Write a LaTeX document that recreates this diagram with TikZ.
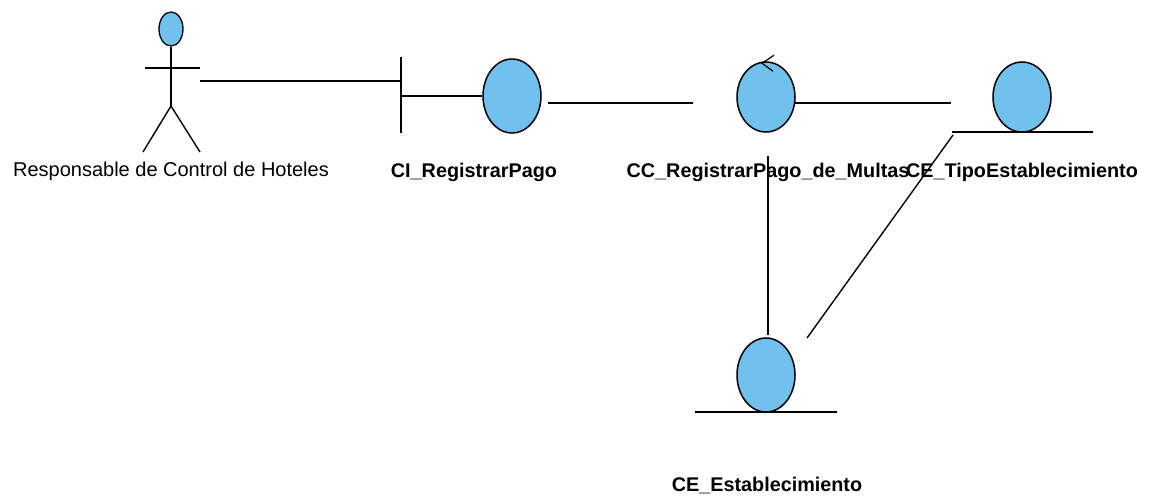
\documentclass[tikz,border=0pt]{standalone}
\usepackage{fontspec}
\setmainfont{Liberation Sans}
\usetikzlibrary{shapes.geometric,calc}
\definecolor{entfill}{RGB}{112,193,238}
\begin{document}
\begin{tikzpicture}[x=1pt,y=-1pt,
  conn/.style={draw=black,line width=1.4pt},
  ent/.style={ellipse,draw=black,line width=1.5pt,fill=entfill,minimum width=58pt,minimum height=70pt,inner sep=0pt},
  lbl/.style={inner sep=0pt,font=\fontsize{20}{24}\selectfont},
  blbl/.style={inner sep=0pt,font=\bfseries\fontsize{19.8}{24}\selectfont}]
\useasboundingbox[fill=white] (0,0) rectangle (1151,498);
% actor
\node[ellipse,draw=black,line width=1.3pt,fill=entfill,minimum width=24pt,minimum height=34pt,inner sep=0pt] (head) at (171,29) {};
\coordinate (hip) at (171,106);
\coordinate (armL) at (145,68);
\coordinate (armR) at (200,68);
\coordinate (footL) at (143,152);
\coordinate (footR) at (200,152);
\draw[conn] (head.south) -- (hip);
\draw[conn] (armL) -- (armR);
\draw[conn] (footL) -- (hip) -- (footR);
\node[lbl] (actL) at (171,171) {Responsable de Control de Hoteles};
% boundary
\node[ent,minimum height=74pt] (ciC) at (512,96) {};
\coordinate (bTop) at (401,57);
\coordinate (bBot) at (401,133);
\coordinate (bMid) at (401,96);
\draw[conn] (bTop) -- (bBot);
\draw[conn] (bMid) -- (ciC.west);
\node[blbl] (ciL) at (474,172) {CI\_RegistrarPago};
\coordinate (actEnd) at (200,81);
\coordinate (bndIn) at (401,81);
\draw[conn] (actEnd) -- (bndIn);
% control
\node[ent] (ccC) at (766,97) {};
\draw[conn,line width=1.2pt] ($(ccC.north)+(8,-6)$) -- ($(ccC.north)+(-4,2)$) -- ($(ccC.north)+(7,10)$);
\node[blbl] (ccL) at (768,172) {CC\_RegistrarPago\_de\_Multas};
% entity TipoEstablecimiento
\node[ent] (teC) at (1022,97) {};
\coordinate (teUL) at (952,132);
\coordinate (teUR) at (1093,132);
\draw[conn] (teUL) -- (teUR);
\node[blbl] (teL) at (1022,172) {CE\_TipoEstablecimiento};
% entity Establecimiento
\node[ent,minimum height=74pt] (eC) at (766,375) {};
\coordinate (eUL) at (695,412);
\coordinate (eUR) at (837,412);
\draw[conn] (eUL) -- (eUR);
\node[blbl] (eL) at (767,486) {CE\_Establecimiento};
% connectors
\draw[conn] ($(ciC.east)+(6,7)$) -- ($(ccC.west)+(-43,6)$);
\draw[conn] ($(ccC.east)+(-1,6)$) -- ($(teC.west)+(-41,6)$);
\draw[conn] ($(ccC.south)+(2,23)$) -- ($(eC.north)+(2,-2)$);
\coordinate (diagA) at (953,135);
\coordinate (diagB) at (807,338);
\draw[conn] (diagA) -- (diagB);
\end{tikzpicture}
\end{document}
